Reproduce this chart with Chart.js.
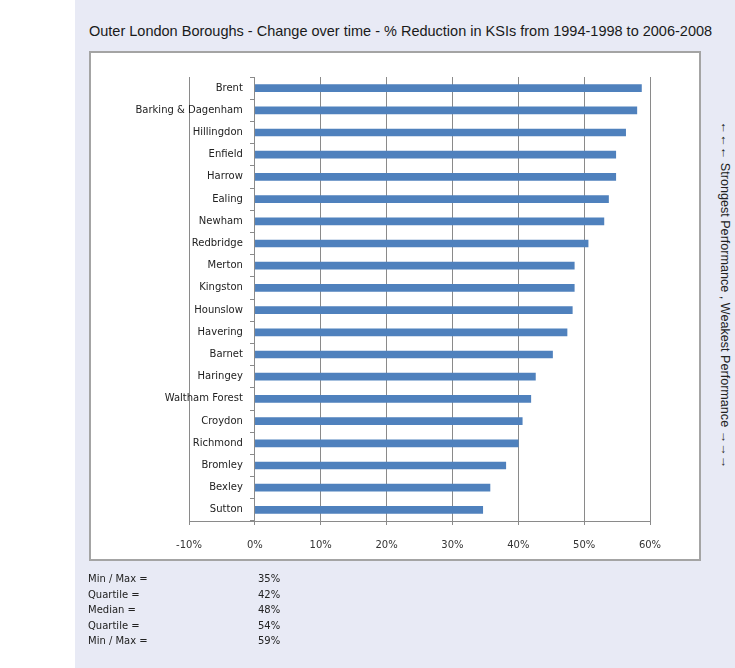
<!DOCTYPE html>
<html>
<head>
<meta charset="utf-8">
<script src="https://cdn.jsdelivr.net/npm/chart.js@4.4.0/dist/chart.umd.min.js"></script>
<style>
  html, body { margin: 0; padding: 0; background: #fff; }
  body { width: 735px; height: 668px; position: relative; overflow: hidden; font-family: "DejaVu Sans", sans-serif; }
  #panel { position: absolute; left: 75px; top: 0; width: 660px; height: 668px; background: #e8eaf5; }
  #title { position: absolute; left: 89px; top: 23px; font: 14.5px "Liberation Sans", Arial, sans-serif; color: #1a1a1a; white-space: nowrap; }
  #box { position: absolute; left: 89px; top: 51px; width: 608px; height: 506px; background: #fff; border: 2px solid #a4a4a4; }
  #chartWrap { position: absolute; left: 0; top: 0; width: 608px; height: 521px; }
  #side { position: absolute; left: 725px; top: 295px; transform: translate(-50%, -50%) rotate(90deg); font: 12.6px "Liberation Sans", Arial, sans-serif; color: #222; white-space: nowrap; }
  .stat { position: absolute; font-size: 10px; color: #222; white-space: nowrap; }
</style>
</head>
<body>
<div id="panel"></div>
<div id="title">Outer London Boroughs - Change over time - % Reduction in KSIs from 1994-1998 to 2006-2008</div>
<div id="box"><div id="chartWrap"><canvas id="ksiChart"></canvas></div></div>
<div id="side">←←← Strongest Performance , Weakest Performance →→→</div>
<div id="stats"></div>
<script>
// boroughs, best performer first
const boroughs = ['Brent', 'Barking & Dagenham', 'Hillingdon', 'Enfield', 'Harrow', 'Ealing', 'Newham',
  'Redbridge', 'Merton', 'Kingston', 'Hounslow', 'Havering', 'Barnet', 'Haringey', 'Waltham Forest',
  'Croydon', 'Richmond', 'Bromley', 'Bexley', 'Sutton'];
// % reduction in KSIs, 1994-1998 baseline vs 2006-2008
const reduction = [58.7, 58.0, 56.3, 54.8, 54.8, 53.7, 53.0, 50.6, 48.5, 48.5, 48.2, 47.4, 45.2,
  42.6, 41.9, 40.6, 40.0, 38.1, 35.7, 34.6];
const statLabels = ['Min / Max =', 'Quartile =', 'Median =', 'Quartile =', 'Min / Max ='];
const statValues = ['35%', '42%', '48%', '54%', '59%'];
const axisMin = -10;
const axisMax = 60;

// the y axis sits at 0%, so its labels get no tick padding by default - push them left
const labelGap = {
    id: 'labelGap',
    beforeDraw(chart, args, opts) {
        const scale = chart.scales.y;
        scale.getLabelItems(chart.chartArea).forEach((item) => {
            if (!item._shifted) {
                item.options.translation[0] -= opts.gap;
                item._shifted = true;
            }
        });
    },
};

window.onload = function () {
    // summary table under the chart
    const stats = document.getElementById('stats');
    statLabels.forEach((lbl, i) => {
        const y = 573 + i * 15.6;
        stats.insertAdjacentHTML('beforeend',
            `<div class="stat" style="left:88px;top:${y}px">${lbl}</div>` +
            `<div class="stat" style="left:258px;top:${y}px">${statValues[i]}</div>`);
    });

    const ctx = document.getElementById('ksiChart');
    new Chart(ctx, {
        type: 'bar',
        data: {
            labels: boroughs,
            datasets: [{
                label: '% Reduction',
                data: reduction,
                backgroundColor: '#4f81bd',
                borderWidth: 0,
                barThickness: 7,
            }],
        },
        plugins: [labelGap],
        options: {
            indexAxis: 'y',
            responsive: true,
            maintainAspectRatio: false,
            animation: false,
            layout: { padding: { left: 98, right: 49, top: 24, bottom: 9 } },
            plugins: {
                legend: { display: false },
                tooltip: { enabled: false },
                labelGap: { gap: 12 },
            },
            scales: {
                x: {
                    min: axisMin,
                    max: axisMax,
                    grid: { color: '#8a8a8a', lineWidth: 1, tickLength: 4 },
                    border: { color: '#8a8a8a' },
                    ticks: {
                        stepSize: 10,
                        padding: 14,
                        color: '#333',
                        font: { family: 'DejaVu Sans', size: 10 },
                        callback: (v) => v + '%',
                    },
                },
                y: {
                    position: { x: 0 }, // category axis crosses at 0%
                    grid: { offset: true, drawOnChartArea: false, tickLength: 4, color: '#8a8a8a' },
                    border: { color: '#8a8a8a' },
                    ticks: {
                        color: '#222',
                        font: { family: 'DejaVu Sans', size: 10 },
                        autoSkip: false,
                    },
                },
            },
        },
    });
};
</script>
</body>
</html>
